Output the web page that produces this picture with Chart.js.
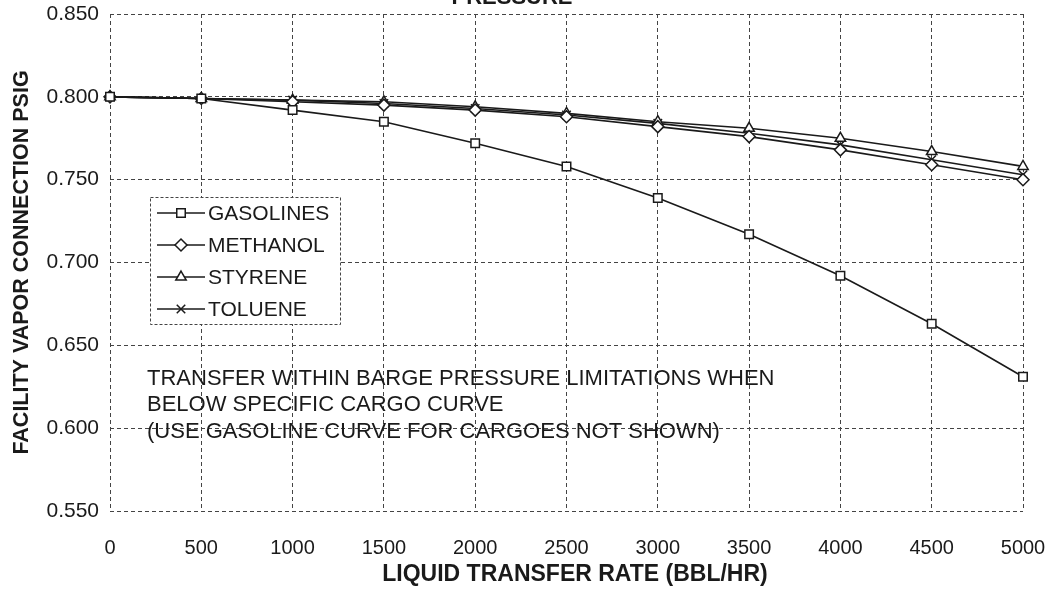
<!DOCTYPE html>
<html>
<head>
<meta charset="utf-8">
<script src="https://cdn.jsdelivr.net/npm/chart.js@4.4.1/dist/chart.umd.min.js"></script>
<style>
html,body{margin:0;padding:0;background:#fff;}
#wrap{position:relative;width:1052px;height:591px;}
</style>
</head>
<body>
<div id="wrap"><canvas id="c" width="1052" height="591"></canvas></div>
<script>
const rates = [0, 500, 1000, 1500, 2000, 2500, 3000, 3500, 4000, 4500, 5000];
const gasolines = [0.800, 0.799, 0.792, 0.785, 0.772, 0.758, 0.739, 0.717, 0.692, 0.663, 0.631];
const methanol  = [0.800, 0.799, 0.797, 0.795, 0.792, 0.788, 0.782, 0.776, 0.768, 0.759, 0.750];
const styrene   = [0.800, 0.799, 0.798, 0.797, 0.794, 0.790, 0.785, 0.781, 0.775, 0.767, 0.758];
const toluene   = [0.800, 0.799, 0.798, 0.796, 0.793, 0.789, 0.784, 0.778, 0.771, 0.762, 0.753];
const seriesNames = ['GASOLINES', 'METHANOL', 'STYRENE', 'TOLUENE'];
const noteLines = [
  'TRANSFER WITHIN BARGE PRESSURE LIMITATIONS WHEN',
  'BELOW SPECIFIC CARGO CURVE',
  '(USE GASOLINE CURVE FOR CARGOES NOT SHOWN)'
];
const titleText = 'PRESSURE';
const yTitle = 'FACILITY VAPOR CONNECTION PSIG';
const xTitle = 'LIQUID TRANSFER RATE (BBL/HR)';

const FONT = '"Liberation Sans", Arial, sans-serif';
const ink = '#1a1a1a';
const styles = ['rect', 'rectRot', 'triangle', 'crossRot'];
const radii = [6, 6, 6, 6];

function pts(vals){ return rates.map((r,i)=>({x:r,y:vals[i]})); }
const allVals = [gasolines, methanol, styrene, toluene];

const datasets = allVals.map((v,i)=>({
  label: seriesNames[i],
  data: pts(v),
  borderColor: ink,
  backgroundColor: '#ffffff',
  borderWidth: 1.6,
  pointStyle: styles[i],
  pointRadius: radii[i],
  pointBorderColor: ink,
  pointBackgroundColor: '#ffffff',
  pointBorderWidth: 1.5,
  tension: 0,
  clip: false
}));

function noPad(s){ s.paddingTop = 0; s.paddingBottom = 0; s.paddingLeft = 0; s.paddingRight = 0; }

const overlay = {
  id: 'overlay',
  afterDraw(chart){
    const ctx = chart.ctx;
    ctx.save();
    ctx.fillStyle = ink;
    ctx.font = 'bold 22px ' + FONT;
    ctx.textAlign = 'center';
    ctx.textBaseline = 'alphabetic';
    ctx.fillText(titleText, 512, 4);

    // x axis title
    ctx.font = 'bold 23px ' + FONT;
    ctx.textBaseline = 'middle';
    ctx.fillText(xTitle, 575, 575);

    ctx.font = '22px ' + FONT;
    ctx.textAlign = 'left';
    ctx.textBaseline = 'middle';
    const y0 = chart.scales.y.getPixelForValue(0.6305);
    noteLines.forEach((t,i)=>{
      ctx.fillText(t, 147, y0 + 1 + i*26.5);
    });

    const lx = 150, ly = 197, lw = 190, lh = 127;
    ctx.strokeStyle = '#444';
    ctx.lineWidth = 1;
    ctx.setLineDash([3,2]);
    ctx.fillStyle = '#fff';
    ctx.fillRect(lx, ly, lw, lh);
    ctx.strokeRect(lx+0.5, ly+0.5, lw, lh);
    ctx.setLineDash([]);
    seriesNames.forEach((name,i)=>{
      const yy = 213 + i*32;
      ctx.strokeStyle = ink;
      ctx.lineWidth = 1.6;
      ctx.beginPath();
      ctx.moveTo(157, yy); ctx.lineTo(205, yy); ctx.stroke();
      ctx.fillStyle = '#fff';
      ctx.lineWidth = 1.5;
      Chart.helpers.drawPoint(ctx, {pointStyle: styles[i], radius: radii[i], rotation: 0, borderWidth: 1.5}, 181, yy);
      ctx.fillStyle = ink;
      ctx.font = '21px ' + FONT;
      ctx.textAlign = 'left';
      ctx.textBaseline = 'middle';
      ctx.fillText(name, 208, yy + 1);
    });
    ctx.restore();
  }
};

new Chart(document.getElementById('c'), {
  type: 'line',
  data: { datasets },
  options: {
    responsive: false,
    animation: false,
    layout: { padding: { top: 14, right: 29, left: 0, bottom: 0 } },
    plugins: { legend: { display: false }, tooltip: { enabled: false } },
    scales: {
      x: {
        type: 'linear',
        min: 0, max: 5000,
        afterFit(s){ s.height = 80; noPad(s); },
        afterBuildTicks(s){ s.ticks = rates.map(v=>({value:v})); },
        ticks: { color: ink, font: { family: FONT, size: 20 }, padding: 25, maxRotation: 0, callback: v => String(v) },
        grid: { color: '#444', lineWidth: 1, drawTicks: false },
        border: { display: false, dash: [4,3] },
        title: { display: false }
      },
      y: {
        min: 0.55, max: 0.85,
        afterFit(s){ s.width = 110; noPad(s); },
        ticks: { stepSize: 0.05, color: ink, font: { family: FONT, size: 21 }, padding: 11, callback: v => Number(v).toFixed(3) },
        grid: { color: '#444', lineWidth: 1, drawTicks: false },
        border: { display: false, dash: [4,3] },
        title: { display: true, text: yTitle, color: ink, font: { family: FONT, size: 21.5, weight: 'bold' }, padding: { top: 9, bottom: 0 } }
      }
    }
  },
  plugins: [overlay]
});
</script>
</body>
</html>
